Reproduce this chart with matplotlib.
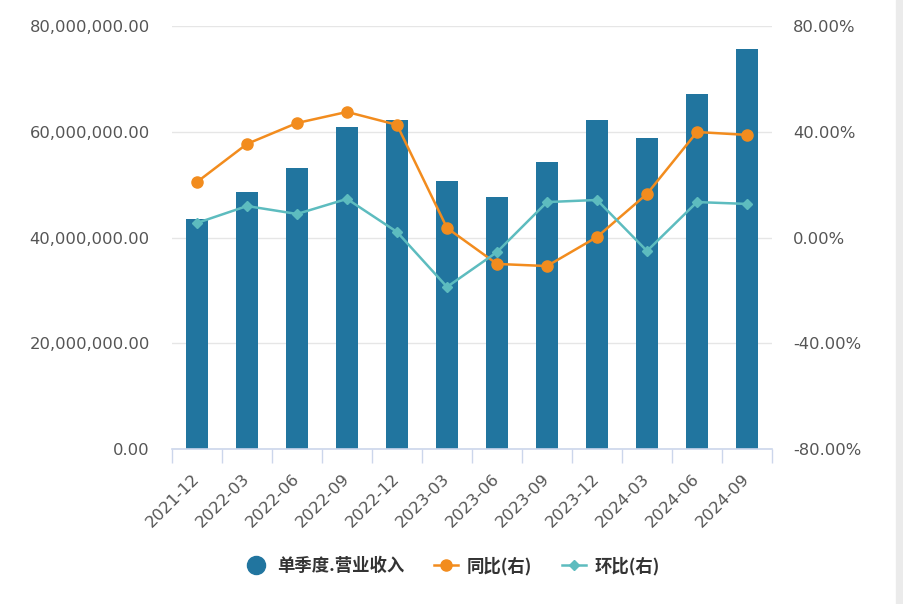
import matplotlib.pyplot as plt
from matplotlib.lines import Line2D
from matplotlib.patches import Rectangle
from matplotlib.ticker import FuncFormatter

plt.rcParams['font.family'] = ['Noto Sans CJK SC', 'DejaVu Sans']

# data
quarters = ['2021-12', '2022-03', '2022-06', '2022-09', '2022-12', '2023-03',
            '2023-06', '2023-09', '2023-12', '2024-03', '2024-06', '2024-09']
revenue = [43.5e6, 48.6e6, 53.1e6, 60.9e6, 62.2e6, 50.7e6,
           47.7e6, 54.3e6, 62.2e6, 58.8e6, 67.1e6, 75.7e6]
yoy = [21.0, 35.4, 43.3, 47.5, 42.6, 3.6, -10.0, -10.8, 0.2, 16.5, 39.9, 38.8]
qoq = [5.5, 11.9, 8.9, 14.6, 2.1, -18.7, -5.5, 13.4, 14.2, -5.1, 13.4, 12.7]

bar_color = '#21759f'
yoy_color = '#f28c1e'
qoq_color = '#5dbcbf'
label_color = '#555555'
tick_font = {'family': 'DejaVu Sans', 'size': 11.8}

fig = plt.figure(figsize=(9.04, 6.04), dpi=100)
fig.patches.append(Rectangle((896 / 904, 0), 8 / 904, 1, transform=fig.transFigure,
                             color='#ebebeb', zorder=0))
ax = fig.add_axes([172 / 904, 1 - 449 / 604, 600 / 904, 423 / 604])
x = list(range(len(quarters)))

ax.bar(x, revenue, width=0.45, color=bar_color, zorder=2)
ax.set_ylim(0, 80e6)
ax.set_yticks([0, 20e6, 40e6, 60e6, 80e6])
ax.yaxis.set_major_formatter(FuncFormatter(lambda v, p: f'{v:,.2f}'))
ax.set_xlim(-0.5, len(quarters) - 0.5)
ax.set_xticks(x)
ax.set_xticklabels(quarters, rotation=45, ha='right', va='center',
                   rotation_mode='anchor')
ax.set_xticks([i - 0.5 for i in range(len(quarters) + 1)], minor=True)
ax.tick_params(axis='x', which='major', length=0, pad=20, labelcolor=label_color)
ax.tick_params(axis='x', which='minor', length=10, width=1, color='#ccd6eb')
ax.tick_params(axis='y', length=0, pad=16, labelcolor=label_color)
for lab in ax.get_xticklabels() + ax.get_yticklabels():
    lab.set_fontfamily(tick_font['family'])
    lab.set_fontsize(tick_font['size'])
ax.grid(axis='y', color='#e6e6e6', linewidth=1, zorder=0)
ax.set_axisbelow(True)
for s in ['top', 'left', 'right']:
    ax.spines[s].set_visible(False)
ax.spines['bottom'].set_color('#ccd6eb')
ax.spines['bottom'].set_linewidth(1.2)

ax2 = ax.twinx()
ax2.plot(x, yoy, color=yoy_color, lw=1.8, marker='o', markersize=8, zorder=3)
ax2.plot(x, qoq, color=qoq_color, lw=1.8, marker='D', markersize=5.5, zorder=3)
ax2.set_ylim(-80, 80)
ax2.set_yticks([-80, -40, 0, 40, 80])
ax2.yaxis.set_major_formatter(FuncFormatter(lambda v, p: f'{v:.2f}%'))
ax2.tick_params(axis='y', length=0, pad=15, labelcolor=label_color)
for lab in ax2.get_yticklabels():
    lab.set_fontfamily(tick_font['family'])
    lab.set_fontsize(tick_font['size'])
for s in ['top', 'left', 'right', 'bottom']:
    ax2.spines[s].set_visible(False)

handles = [
    Line2D([], [], color=bar_color, marker='o', linestyle='none', markersize=13),
    Line2D([], [], color=yoy_color, marker='o', lw=1.8, markersize=8),
    Line2D([], [], color=qoq_color, marker='D', lw=1.8, markersize=5.5),
]
labels = ['单季度.营业收入', '同比(右)', '环比(右)']
fig.legend(handles, labels, loc='center', bbox_to_anchor=(452 / 904, 1 - 566 / 604),
           ncol=3, frameon=False, handlelength=1.4, columnspacing=1.7,
           handletextpad=0.5, prop={'size': 12.5, 'weight': 'bold'},
           labelcolor='#333333')

fig.savefig('out.png', dpi=100)
